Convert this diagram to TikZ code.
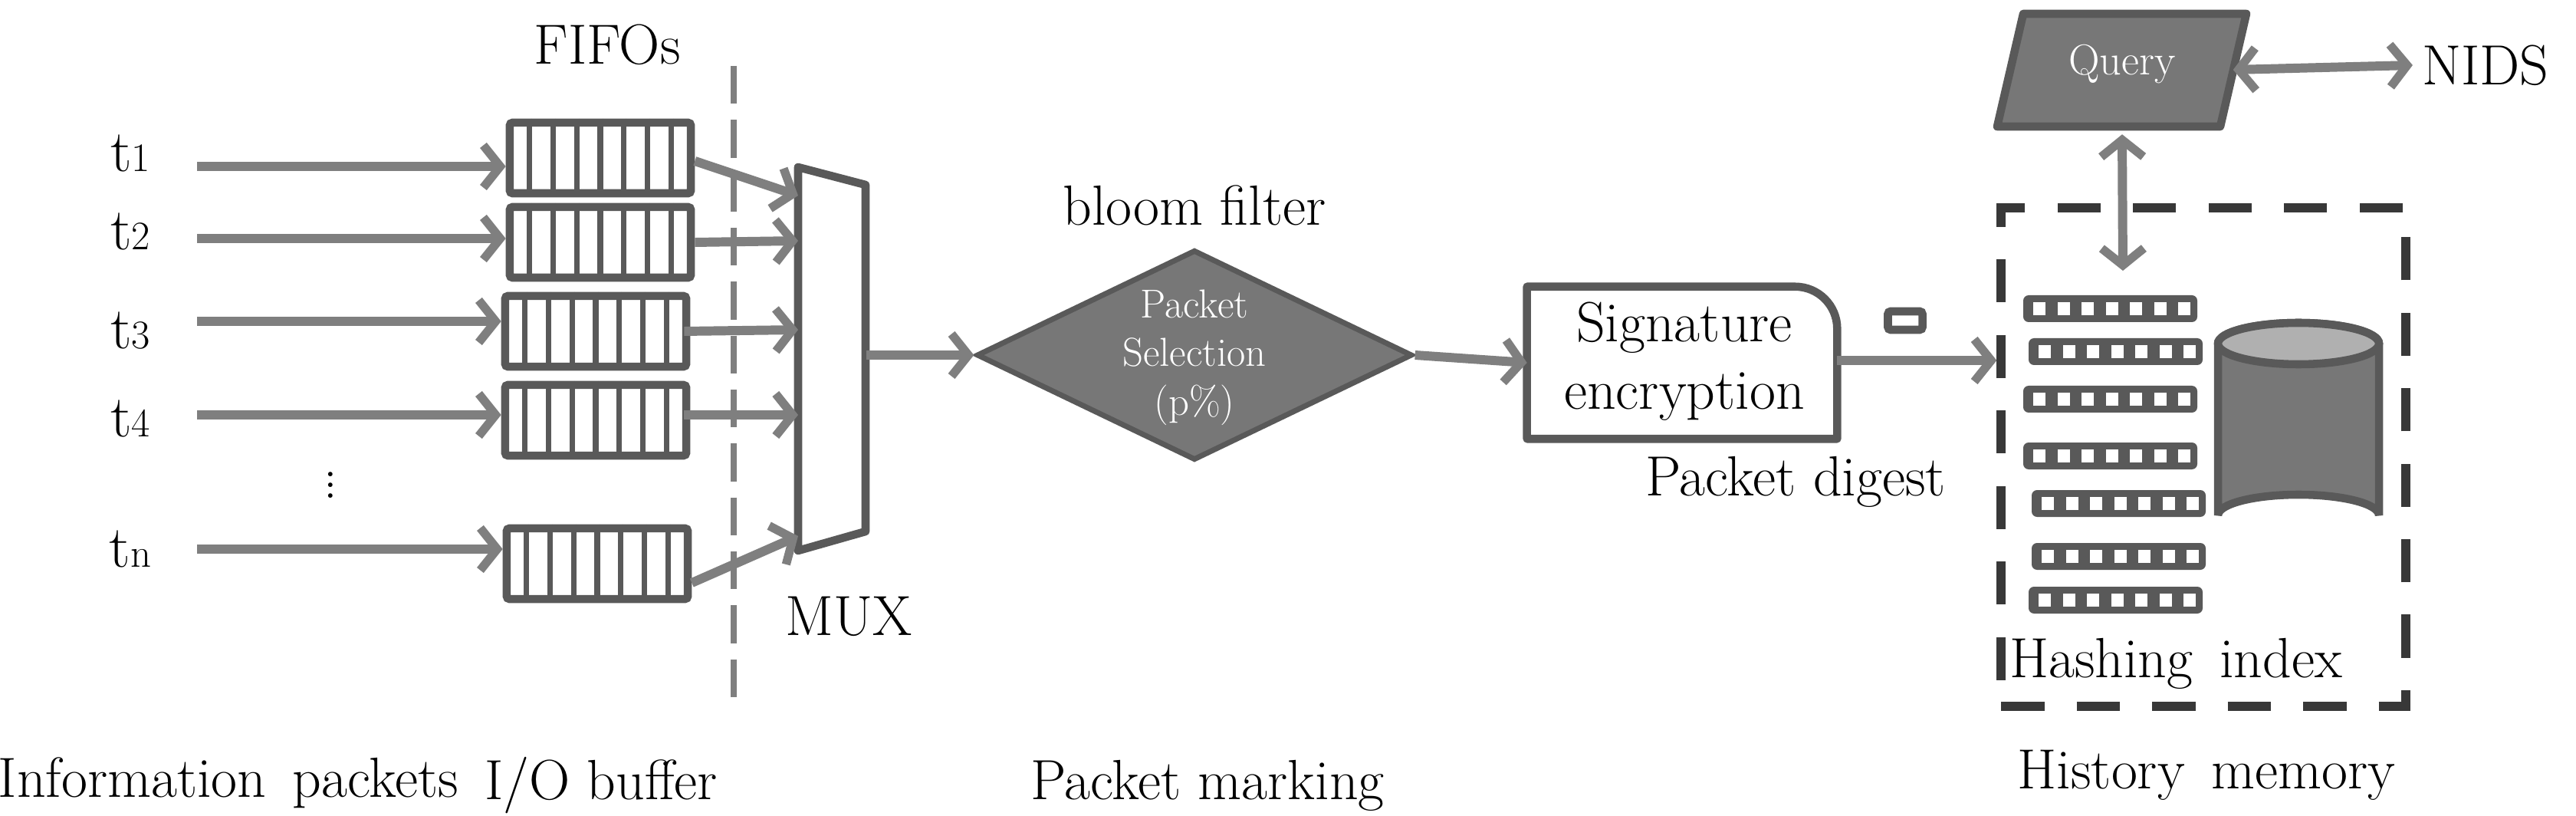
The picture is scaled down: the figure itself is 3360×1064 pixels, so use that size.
\documentclass[tikz,border=0pt]{standalone}
\usetikzlibrary{arrows.meta,shapes.geometric,calc}
\begin{document}
\begin{tikzpicture}[x=0.01cm,y=-0.01cm,
  arr/.style={draw=arrgray,line width=3.4pt,-{Straight Barb[length=0.22cm,width=0.55cm,line width=3.2pt]}},
  darr/.style={draw=arrgray,line width=3.4pt,{Straight Barb[length=0.22cm,width=0.55cm,line width=3.2pt]}-{Straight Barb[length=0.22cm,width=0.55cm,line width=3.2pt]}},
  fifo/.style={draw=boxgray,line width=3pt,rounded corners=1pt,minimum width=2.36cm,minimum height=0.92cm,inner sep=0pt},
  lbl/.style={font=\fontsize{21}{25}\selectfont,text=black},
  wlbl/.style={text=white,align=center},
  hrow/.style={fill=boxgray,rounded corners=2pt},
  tlab/.style={font=\fontsize{22}{24}\selectfont}]
\definecolor{arrgray}{HTML}{7F7F7F}
\definecolor{boxgray}{HTML}{595959}
\definecolor{fillgray}{HTML}{777777}
\definecolor{lightgray}{HTML}{B0B0B0}
\useasboundingbox[fill=white] (0,0) rectangle (3360,1064);

% t labels
\node[tlab] (t1) at (170,200) {t{\fontsize{15}{16}\selectfont 1}};
\node[tlab] (t2) at (170,302) {t{\fontsize{15}{16}\selectfont 2}};
\node[tlab] (t3) at (170,431) {t{\fontsize{15}{16}\selectfont 3}};
\node[tlab] (t4) at (170,546) {t{\fontsize{15}{16}\selectfont 4}};
\node[tlab] (tn) at (170,716) {t{\fontsize{15}{16}\selectfont n}};
\node[font=\fontsize{20}{20}\selectfont] (dots) at (431,622) {$\vdots$};

% FIFOs
\node[fifo] (f1) at (783,206) {};
\node[fifo] (f2) at (783,316) {};
\node[fifo] (f3) at (777,432) {};
\node[fifo] (f4) at (777,548) {};
\node[fifo] (f5) at (779,735) {};
\foreach \n in {f1,f2,f3,f4,f5}
  \foreach \i in {1,...,7}
    \draw[draw=boxgray,line width=2pt] ($(\n.north west)!\i/8!(\n.north east)$) -- ($(\n.south west)!\i/8!(\n.south east)$);

\coordinate (a1) at (257,217);
\coordinate (a2) at (257,311);
\coordinate (a3) at (257,419);
\coordinate (a4) at (257,541);
\coordinate (a5) at (257,716);
\draw[arr] (a1) -- (a1 -| f1.west);
\draw[arr] (a2) -- (a2 -| f2.west);
\draw[arr] (a3) -- (a3 -| f3.west);
\draw[arr] (a4) -- (a4 -| f4.west);
\draw[arr] (a5) -- (a5 -| f5.west);

\node[lbl] (fifolbl) at (792,58) {FIFOs};

% dashed separator
\coordinate (d1) at (957,86);
\coordinate (d2) at (957,911);
\draw[draw=arrgray,line width=2.2pt,dash pattern=on 14pt off 6pt] (d1) -- (d2);

% MUX
\node[minimum width=0.88cm,minimum height=5cm,inner sep=0pt] (mux) at (1085,468) {};
\draw[draw=boxgray,line width=3pt,line join=round] (1041,218) -- (1129,241) -- (1129,693) -- (1041,718) -- cycle;
\node[lbl] (muxlbl) at (1107,804) {MUX};
\coordinate (m1) at (1041,255);
\coordinate (m2) at (1041,314);
\coordinate (m3) at (1041,430);
\coordinate (m4) at (1041,541);
\coordinate (m5) at (1041,699);
\draw[arr] ($(f1.east)+(0,4)$) -- (m1);
\draw[arr] (f2.east) -- (m2);
\draw[arr] ($(f3.east)+(-8,0)$) -- (m3);
\draw[arr] ($(f4.east)+(-8,-7)$) -- (m4);
\draw[arr] ($(f5.east)+(0,25)$) -- (m5);

% diamond
\node[diamond,aspect=2.07,fill=fillgray,draw=boxgray,line width=2pt,minimum width=5.68cm,minimum height=2.74cm,inner sep=0pt] (dia) at (1558,463) {};
\node[wlbl,font=\fontsize{15}{18}\selectfont] (diatxt) at (1558,466) {Packet\\Selection\\(p\%)};
\node[lbl] (bloom) at (1558,268) {bloom filter};
\draw[arr] (mux.east |- dia.west) -- (dia.west);

% signature
\node[minimum width=4.03cm,minimum height=1.97cm,inner sep=0pt] (sig) at (2194,473) {};
\draw[draw=boxgray,line width=3pt,line join=round] (sig.south west) -- (sig.north west) -- ($(sig.north east)+(-55,0)$) to[out=0,in=90] ($(sig.north east)+(0,55)$) -- (sig.south east) -- cycle;
\node[lbl,align=center] (sigtxt) at (2197,471) {Signature\\encryption};
\draw[arr] (dia.east) -- (sig.west);
\node[draw=boxgray,line width=3pt,rounded corners=1pt,minimum width=0.45cm,minimum height=0.24cm,inner sep=0pt] (dig) at (2485,418) {};
\node[lbl] (diglbl) at (2342,628) {Packet digest};

% history memory box
\node[draw=black!78,line width=3.4pt,dash pattern=on 16pt off 12pt,minimum width=5.27cm,minimum height=6.5cm,inner sep=0pt] (hm) at (2874,596) {};
\coordinate (s1) at (2396,470);
\draw[arr] (s1) -- (s1 -| hm.west);

% hashing rows
\foreach \x/\y in {2639/385,2646/441,2639/503,2639/577,2650/639,2650/708,2646/765}{
  \fill[hrow] (\x,\y) rectangle ++(227,35);
  \foreach \k in {0,...,6}
    \fill[white] ({\x+13+\k*31.5},{\y+9}) rectangle ++(16,17);
}
\node[lbl] (hashlbl) at (2838,865) {Hashing\, index};

% cylinder
\node[minimum width=2.1cm,minimum height=2.8cm,inner sep=0pt] (cyl) at (2998,560) {};
\fill[fillgray,draw=boxgray,line width=3pt] (2893,448) -- (2893,672) arc[start angle=180,end angle=360,x radius=105,y radius=27] -- (3103,448) arc[start angle=0,end angle=180,x radius=105,y radius=-27];
\draw[fill=lightgray,draw=boxgray,line width=3pt] (2998,448) ellipse[x radius=105,y radius=27];

% query
\node[minimum width=2.88cm,minimum height=1.47cm,inner sep=0pt] (q) at (2768,91) {};
\draw[fill=fillgray,draw=boxgray,line width=3pt,line join=round] (2605,165) -- (2639,18) -- (2930,18) -- (2896,165) -- cycle;
\node[wlbl,font=\fontsize{16}{18}\selectfont] (qtxt) at (2768,84) {Query};
\node[lbl] (nids) at (3242,85) {NIDS};
\draw[darr] (q.east) -- (nids.west);
\coordinate (qa) at (2769,353);
\draw[darr] (q.south) ++(0,10) -- (qa);

% bottom labels
\node[lbl] (l1) at (298,1021) {Information\, packets};
\node[lbl] (l2) at (784,1024) {I/O buffer};
\node[lbl] (l3) at (1575,1024) {Packet marking};
\node[lbl] (l4) at (2878,1011) {History\, memory};
\end{tikzpicture}
\end{document}
